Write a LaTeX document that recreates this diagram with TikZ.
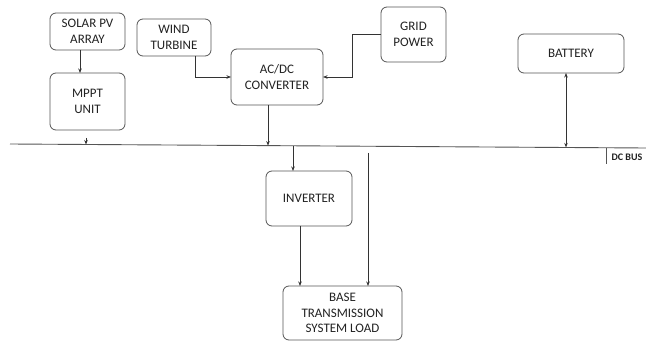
\documentclass[tikz,border=0pt]{standalone}
\usepackage{fontspec}
\setmainfont{Carlito}
\usetikzlibrary{arrows.meta}
\definecolor{txt}{HTML}{222222}
\definecolor{edge}{HTML}{555555}
\definecolor{ln}{HTML}{333333}
\begin{document}
\begin{tikzpicture}[x=1pt,y=-1pt,
  box/.style={draw=edge,line width=0.8pt,rounded corners=6pt,inner sep=0pt,outer sep=0pt,
    align=center,text=txt,font=\fontsize{13}{15.5}\selectfont},
  arr/.style={draw=ln,line width=0.7pt,-{Stealth[length=4.5pt,width=3.5pt]}},
  darr/.style={draw=ln,line width=0.7pt,{Stealth[length=4.5pt,width=3.5pt]}-{Stealth[length=4.5pt,width=3.5pt]}}]
\useasboundingbox[fill=white] (0,0) rectangle (646,342);

\node[box,minimum width=75pt,minimum height=37pt] (solar) at (87.5,31.5) {SOLAR PV\\ARRAY};
\node[box,minimum width=75pt,minimum height=57pt] (mppt) at (87.5,101.5) {MPPT\\UNIT};
\node[box,minimum width=74pt,minimum height=37pt] (wind) at (174,37.5) {WIND\\TURBINE};
\node[box,minimum width=92pt,minimum height=56pt] (conv) at (277,77) {AC/DC\\CONVERTER};
\node[box,minimum width=65pt,minimum height=55pt] (grid) at (413.5,34.5) {GRID\\POWER};
\node[box,minimum width=106pt,minimum height=39pt] (bat) at (571,53.5) {BATTERY};
\node[box,minimum width=86pt,minimum height=55pt] (inv) at (309,198.5) {INVERTER};
\node[box,minimum width=119pt,minimum height=54pt] (load) at (342.5,313) {BASE\\TRANSMISSION\\SYSTEM LOAD};

% DC bus
\coordinate (busL) at (10,144);
\coordinate (busR) at (646,148);
\draw[draw=edge,line width=0.9pt] (busL) -- (busR);
\coordinate (b1) at (86,144.5);
\coordinate (b2) at (268,145.6);
\coordinate (b3) at (293,145.8);
\coordinate (b5) at (566,147.4);
\coordinate (b6) at (606,147.7);
\coordinate (b6d) at (606,164);
\draw[draw=edge,line width=0.7pt] (b6) -- (b6d);
\node[font=\fontsize{10}{12}\bfseries,text=txt,inner sep=0pt] (dcbus) at (627,157.5) {DC BUS};

% connectors
\draw[arr] ([xshift=-7.5pt]solar.south) -- ([xshift=-7.5pt]mppt.north);
\coordinate (m1) at (86,138);
\draw[arr] (m1) -- (b1);
\draw[arr] ([xshift=21pt]wind.south) |- (conv.west);
\coordinate (g1) at (352,34.5);
\draw[arr] (grid.west) -- (g1) |- (conv.east);
\draw[arr] ([xshift=-9pt]conv.south) -- (b2);
\draw[arr] (b3) -- (inv.north -| b3);
\draw[darr] (bat.south -| b5) -- (b5);
\draw[arr] ([xshift=-9pt]inv.south) -- ([xshift=-42.5pt]load.north);
\coordinate (l1) at (368,153);
\draw[arr] (l1) -- (load.north -| l1);
\end{tikzpicture}
\end{document}
